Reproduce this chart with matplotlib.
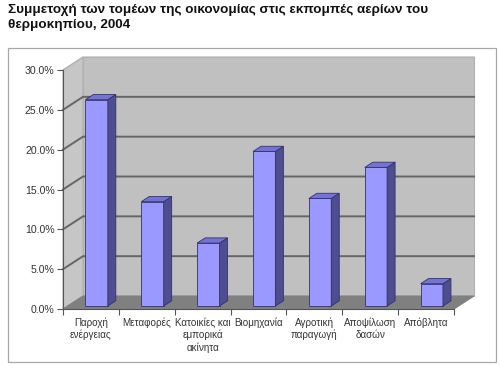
import matplotlib

matplotlib.use("Agg")
from matplotlib import pyplot as plt
from matplotlib.patches import Polygon, Rectangle
from matplotlib.ticker import FuncFormatter

categories = [
    "Παροχή\nενέργειας",
    "Μεταφορές",
    "Κατοικίες και\nεμπορικά\nακίνητα",
    "Βιομηχανία",
    "Αγροτική\nπαραγωγή",
    "Αποψίλωση\nδασών",
    "Απόβλητα",
]
shares = [25.9, 13.1, 7.9, 19.4, 13.5, 17.4, 2.8]
y_ticks = [0, 5, 10, 15, 20, 25, 30]
title = "Συμμετοχή των τομέων της οικονομίας στις εκπομπές αερίων του\nθερμοκηπίου, 2004"

W, H = 500, 366
# depth of the 3d box in data units (x: categories, y: percent)
DX, DY = 0.358, 1.63
YMAX = y_ticks[-1]
n = len(categories)

plt.rcParams["font.family"] = ["Liberation Sans", "DejaVu Sans"]
fig = plt.figure(figsize=(W / 100, H / 100), dpi=100)
fig.patch.set_facecolor("white")

# outer chart frame
fig.add_artist(Rectangle((8 / W, 1 - 362 / H), 488 / W, 314 / H, transform=fig.transFigure,
                         fill=False, edgecolor="#a8a8a8", linewidth=0.9))
fig.text(8 / W, 1 - 4 / H, title, ha="left", va="top", fontsize=9.7,
         fontweight="bold", linespacing=1.3, color="#111111")

ax = fig.add_axes([63 / W, 1 - 309 / H, 391 / W, 239 / H])
ax.set_xlim(0, n)
ax.set_ylim(0, YMAX)
ax.patch.set_visible(False)

# walls and floor
ax.add_patch(Polygon([(DX, DY), (n + DX, DY), (n + DX, YMAX + DY), (DX, YMAX + DY)],
                     closed=True, facecolor="#c0c0c0", edgecolor="#b0b0b0", lw=0.8,
                     clip_on=False, zorder=0))
ax.add_patch(Polygon([(0, 0), (DX, DY), (DX, YMAX + DY), (0, YMAX)],
                     closed=True, facecolor="#c6c6c6", edgecolor="#b0b0b0", lw=0.8,
                     clip_on=False, zorder=0))
ax.add_patch(Polygon([(0, 0), (n, 0), (n + DX, DY), (DX, DY)],
                     closed=True, facecolor="#808080", edgecolor="#808080", lw=0.8,
                     clip_on=False, zorder=1))

# gridlines on side and back wall
for v in y_ticks[1:-1]:
    ax.plot([0, DX, n + DX], [v, v + DY, v + DY], color="#666666", lw=1.4,
            clip_on=False, zorder=1)
ax.plot([0, DX, n + DX], [YMAX, YMAX + DY, YMAX + DY], color="#b4b4b4", lw=0.8,
        clip_on=False, zorder=1)

# 3d bars
d0, depth, width, center = 0.23, 0.40, 0.40, 0.52
xs = [i + center - width / 2 + d0 * DX for i in range(n)]
base = d0 * DY
ax.bar(xs, shares, width=width, bottom=base, align="edge", color="#9999ff",
       edgecolor="#33336b", linewidth=0.6, zorder=3, clip_on=False)
for x, v in zip(xs, shares):
    r = x + width
    top = base + v
    ax.add_patch(Polygon([(r, base), (r + depth * DX, base + depth * DY),
                          (r + depth * DX, top + depth * DY), (r, top)],
                         closed=True, facecolor="#4d4d8f", edgecolor="#33336b",
                         lw=0.6, clip_on=False, zorder=3))
    ax.add_patch(Polygon([(x, top), (r, top), (r + depth * DX, top + depth * DY),
                          (x + depth * DX, top + depth * DY)],
                         closed=True, facecolor="#7373d6", edgecolor="#33336b",
                         lw=0.6, clip_on=False, zorder=3))

# axes
for side in ["top", "right"]:
    ax.spines[side].set_visible(False)
ax.spines["left"].set_color("#555555")
ax.spines["bottom"].set_color("#555555")
ax.spines["left"].set_linewidth(0.8)
ax.spines["bottom"].set_linewidth(0.8)

ax.set_yticks(y_ticks)
ax.yaxis.set_major_formatter(FuncFormatter(lambda v, _: f"{v:.1f}%"))
ax.set_xticks(range(n + 1))
ax.set_xticklabels([])
ax.set_xticks([i + 0.5 for i in range(n)], minor=True)
ax.set_xticklabels(categories, minor=True)
ax.tick_params(axis="x", which="major", length=4, width=0.8, color="#555555")
ax.tick_params(axis="x", which="minor", length=0, pad=6, labelsize=7.1,
               labelcolor="#333333")
ax.tick_params(axis="y", length=4.5, width=0.8, color="#555555", pad=1.5,
               labelsize=7.6, labelcolor="#333333")
for lbl in ax.get_xticklabels(minor=True):
    lbl.set_linespacing(1.25)

fig.savefig("out.png", dpi=100, facecolor="white")
